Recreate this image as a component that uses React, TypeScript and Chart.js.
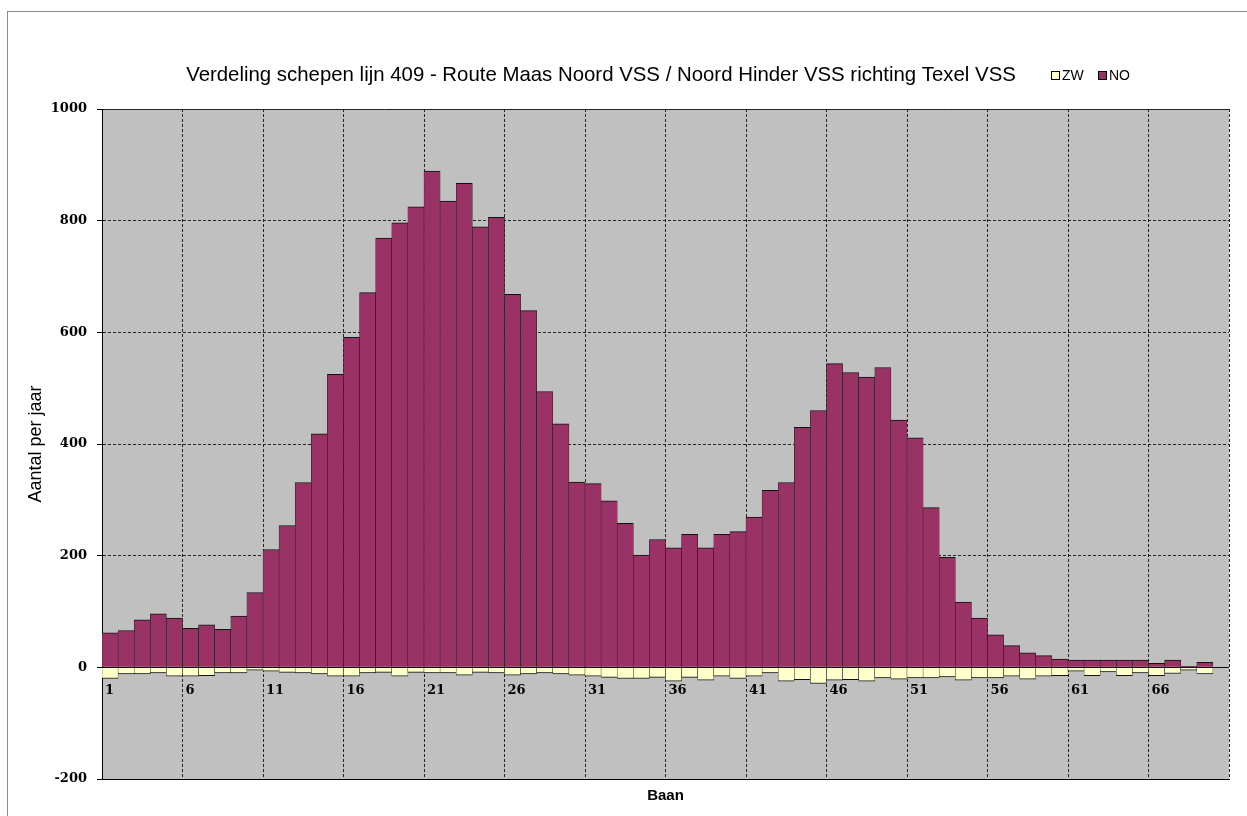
import React, { useEffect, useRef } from 'react';
import { Chart, registerables } from 'chart.js';

Chart.register(...registerables);

const TITLE = 'Verdeling schepen lijn 409 - Route Maas Noord VSS / Noord Hinder VSS richting Texel VSS';
const Y_TITLE = 'Aantal per jaar';
const X_TITLE = 'Baan';
const SERIES_ZW = 'ZW';
const SERIES_NO = 'NO';

const CATEGORIES = [
  '1', '2', '3', '4', '5', '6', '7', '8', '9', '10',
  '11', '12', '13', '14', '15', '16', '17', '18', '19', '20',
  '21', '22', '23', '24', '25', '26', '27', '28', '29', '30',
  '31', '32', '33', '34', '35', '36', '37', '38', '39', '40',
  '41', '42', '43', '44', '45', '46', '47', '48', '49', '50',
  '51', '52', '53', '54', '55', '56', '57', '58', '59', '60',
  '61', '62', '63', '64', '65', '66', '67', '68', '69', '70',
];

const X_TICK_LABELS = ['1', '6', '11', '16', '21', '26', '31', '36', '41', '46', '51', '56', '61', '66'];

const NO_VALUES = [
  62, 66, 85, 96, 88, 70, 76, 68, 92, 134,
  211, 254, 331, 418, 525, 591, 671, 769, 796, 825,
  889, 835, 867, 789, 806, 668, 639, 494, 436, 332,
  329, 298, 258, 201, 229, 214, 238, 214, 238, 243,
  269, 317, 331, 430, 460, 544, 528, 520, 537, 443,
  411, 286, 197, 117, 88, 58, 39, 26, 21, 15,
  13, 13, 13, 13, 13, 7, 13, 2, 9, null,
];

const ZW_VALUES = [
  -20, -12, -12, -10, -16, -16, -15, -10, -10, -5,
  -7, -9, -10, -12, -16, -16, -10, -9, -16, -9,
  -10, -10, -14, -9, -10, -14, -12, -10, -12, -14,
  -16, -18, -20, -20, -18, -25, -18, -23, -16, -20,
  -16, -10, -25, -22, -29, -23, -22, -25, -19, -21,
  -19, -19, -17, -23, -19, -19, -16, -21, -16, -15,
  -7, -15, -8, -15, -10, -15, -11, -5, -12, null,
];

const Y_MIN = -200;
const Y_MAX = 1000;
const Y_STEP = 200;

const COLOR_NO = '#993366';
const COLOR_ZW = '#FFFFCC';
const PLOT_BG = '#C0C0C0';
const SANS = '"Liberation Sans", Arial, sans-serif';
const SERIF_BOLD = 'bold 13px "DejaVu Serif", serif';

const framePlugin = {
  id: 'frame',
  beforeDraw(chart: any) {
    const { ctx, chartArea: a } = chart;
    ctx.save();
    ctx.fillStyle = PLOT_BG;
    ctx.fillRect(a.left, a.top, a.right - a.left, a.bottom - a.top);
    ctx.restore();
  },
  afterDatasetsDraw(chart: any) {
    const { ctx, chartArea: a, scales } = chart;
    const y0 = Math.round(scales.y.getPixelForValue(0)) + 0.5;
    ctx.save();
    ctx.strokeStyle = '#111';
    ctx.lineWidth = 1;
    ctx.beginPath();
    ctx.moveTo(a.left, y0);
    ctx.lineTo(a.right, y0);
    ctx.stroke();
    ctx.restore();
  },
  afterDraw(chart: any) {
    const { ctx, scales } = chart;
    const xs = scales.x;
    const ys = scales.y;
    const half = (xs.getPixelForValue(1) - xs.getPixelForValue(0)) / 2;
    const y0 = ys.getPixelForValue(0);
    ctx.save();
    ctx.fillStyle = '#000';
    ctx.font = SERIF_BOLD;
    ctx.textAlign = 'left';
    ctx.textBaseline = 'middle';
    X_TICK_LABELS.forEach((lbl) => {
      const idx = CATEGORIES.indexOf(lbl);
      const left = xs.getPixelForValue(idx) - half;
      ctx.fillText(lbl, left + 3, y0 + 23);
    });

    // title
    ctx.font = '20.4px ' + SANS;
    ctx.textAlign = 'center';
    ctx.fillStyle = '#000';
    ctx.fillText(TITLE, 601, 75);

    // legend
    ctx.font = '14px ' + SANS;
    ctx.textAlign = 'left';
    const items = [
      { label: SERIES_ZW, color: COLOR_ZW, x: 1051 },
      { label: SERIES_NO, color: COLOR_NO, x: 1098 },
    ];
    items.forEach((it) => {
      ctx.fillStyle = it.color;
      ctx.fillRect(it.x, 71, 8, 8);
      ctx.strokeStyle = '#000';
      ctx.lineWidth = 1;
      ctx.strokeRect(it.x + 0.5, 71.5, 8, 8);
      ctx.fillStyle = '#000';
      ctx.fillText(it.label, it.x + 11, 76);
    });
    ctx.restore();
  },
};

export default function App() {
  const ref = useRef<HTMLCanvasElement>(null);

  useEffect(() => {
    const canvas = ref.current;
    if (!canvas) return;
    const chart = new Chart(canvas, {
      type: 'bar',
      data: {
        labels: CATEGORIES,
        datasets: [
          {
            label: SERIES_ZW,
            data: ZW_VALUES,
            backgroundColor: COLOR_ZW,
            borderColor: '#111',
            borderWidth: { top: 0, left: 0.5, right: 0.5, bottom: 1 },
            borderSkipped: false,
            barPercentage: 1,
            categoryPercentage: 1,
          },
          {
            label: SERIES_NO,
            data: NO_VALUES,
            backgroundColor: COLOR_NO,
            borderColor: '#111',
            borderWidth: { top: 1, left: 0.5, right: 0.5, bottom: 0 },
            borderSkipped: false,
            barPercentage: 1,
            categoryPercentage: 1,
          },
        ],
      },
      options: {
        responsive: false,
        animation: false,
        layout: { padding: { top: 109, right: 18, left: 0, bottom: 0 } },
        plugins: {
          legend: { display: false },
          title: { display: false },
          tooltip: { enabled: false },
        },
        scales: {
          x: {
            type: 'category',
            stacked: true,
            offset: true,
            grid: {
              offset: true,
              drawTicks: false,
              lineWidth: 1,
              color: (ctx: any) =>
                ctx.index === undefined || ctx.index % 5 === 0 ? '#222' : 'rgba(0,0,0,0)',
            },
            border: {
              display: true,
              color: '#000',
              width: 1,
              dash: (ctx: any) => (ctx.index === 0 ? [] : [3, 2]),
            },
            ticks: { display: false, autoSkip: false },
            title: {
              display: true,
              text: X_TITLE,
              color: '#000',
              font: { family: SANS, size: 15, weight: 'bold' },
              padding: { top: 0, bottom: 11 },
            },
            afterFit: (s: any) => {
              s.height = 37;
            },
          },
          y: {
            stacked: true,
            min: Y_MIN,
            max: Y_MAX,
            ticks: {
              stepSize: Y_STEP,
              color: '#000',
              padding: 10,
              font: { family: '"DejaVu Serif", serif', size: 13, weight: 'bold' },
              callback: (v: any) => String(v),
            },
            grid: {
              color: '#222',
              lineWidth: 1,
              drawTicks: true,
              tickLength: 5,
              tickColor: '#000',
            },
            border: {
              display: true,
              color: '#000',
              width: 1,
              dash: (ctx: any) => {
                const v = ctx.tick ? ctx.tick.value : null;
                return v === 0 || v === Y_MAX || v === Y_MIN ? [] : [3, 2];
              },
            },
            title: {
              display: true,
              text: Y_TITLE,
              color: '#000',
              font: { family: SANS, size: 18 },
              padding: { top: 25, bottom: 0 },
            },
            afterFit: (s: any) => {
              s.width = 102;
            },
          },
        },
      },
      plugins: [framePlugin],
    } as any);
    return () => chart.destroy();
  }, []);

  return (
    <div
      style={{
        position: 'absolute',
        left: 0,
        top: 0,
        width: 1247,
        height: 816,
        background: '#fff',
        overflow: 'hidden',
      }}
    >
      <div
        style={{
          position: 'absolute',
          left: 7,
          top: 11,
          width: 1300,
          height: 900,
          borderTop: '1px solid #8a8a8a',
          borderLeft: '1px solid #8a8a8a',
        }}
      />
      <canvas
        ref={ref}
        width={1247}
        height={816}
        style={{ position: 'absolute', left: 0, top: 0 }}
      />
    </div>
  );
}
